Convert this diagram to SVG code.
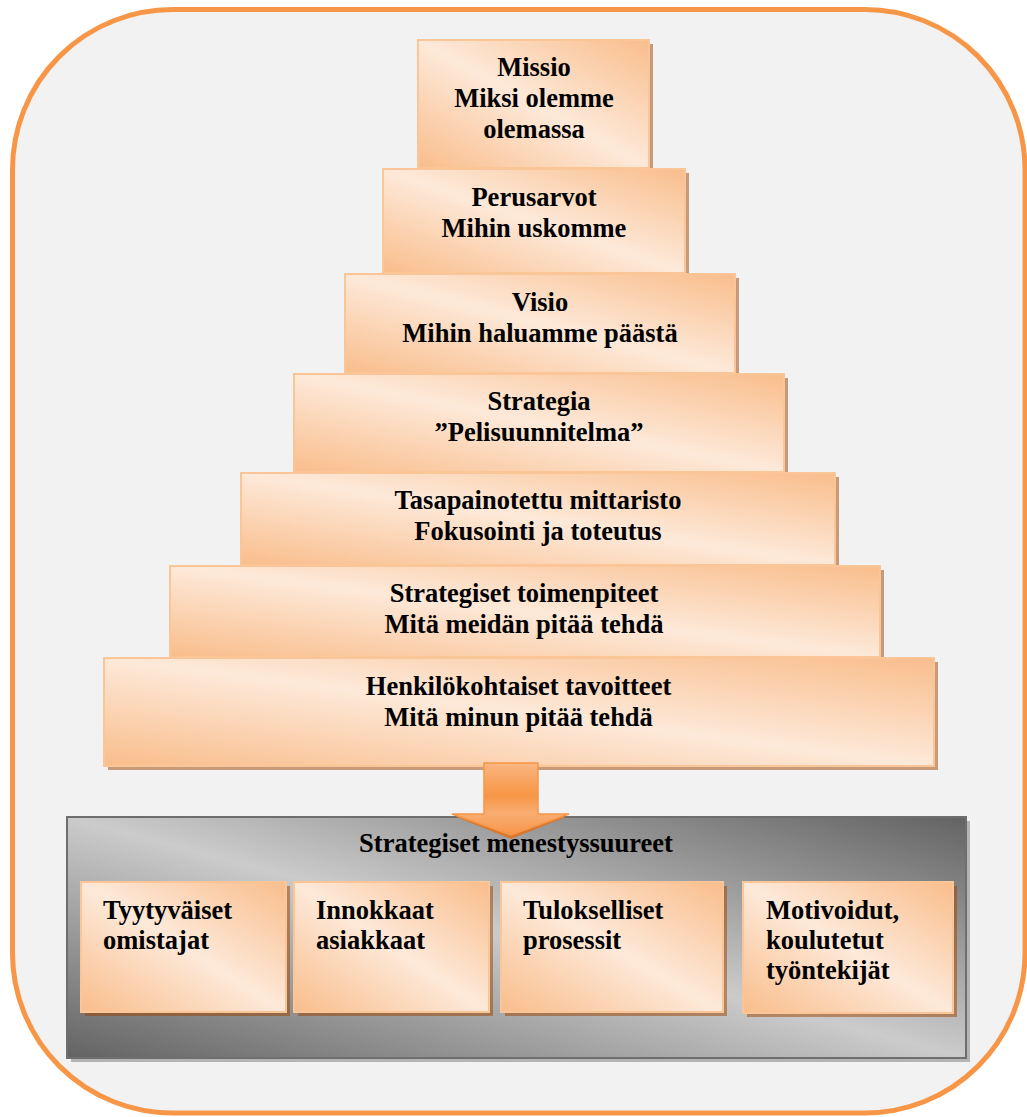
<svg xmlns="http://www.w3.org/2000/svg" width="1027" height="1117" viewBox="0 0 1027 1117">
<defs>
<linearGradient id="peach" x1="1" y1="0" x2="0" y2="1">
<stop offset="0" stop-color="#F9BD8B"/>
<stop offset="0.5" stop-color="#FDE9D9"/>
<stop offset="1" stop-color="#F9BD8B"/>
</linearGradient>
<linearGradient id="gray" x1="1" y1="0" x2="0" y2="1">
<stop offset="0" stop-color="#636363"/>
<stop offset="0.5" stop-color="#CBCBCB"/>
<stop offset="1" stop-color="#636363"/>
</linearGradient>
<linearGradient id="arrowg" gradientUnits="userSpaceOnUse" x1="0" y1="763" x2="0" y2="835">
<stop offset="0" stop-color="#FAB682"/>
<stop offset="0.45" stop-color="#F79646"/>
<stop offset="0.7" stop-color="#F9AD72"/>
<stop offset="1" stop-color="#F7964A"/>
</linearGradient>
<style>
.box{fill:url(#peach);stroke:#FAC597;stroke-width:2}
.shadow{fill:#9C4402;fill-opacity:0.5}
.t{font-family:"Liberation Serif","Times New Roman",serif;font-weight:bold;font-size:26.5px;fill:#000}
.c{text-anchor:middle}
</style>
</defs>
<rect x="0" y="0" width="1027" height="1117" fill="#FFFFFF"/>
<rect id="frame" x="12.5" y="9.5" width="1012.5" height="1103.5" rx="160" ry="160" fill="#F2F2F2" stroke="#F79646" stroke-width="5"/>

<g id="missio">
<rect class="shadow" x="422" y="44" width="231" height="128"/>
<rect class="box" x="418" y="40" width="231" height="128"/>
<text class="t c" x="534" y="76">Missio</text>
<text class="t c" x="534" y="107">Miksi olemme</text>
<text class="t c" x="534" y="138">olemassa</text>
</g>
<g id="perusarvot">
<rect class="shadow" x="387" y="173" width="302" height="104"/>
<rect class="box" x="383" y="169" width="302" height="104"/>
<text class="t c" x="534" y="206">Perusarvot</text>
<text class="t c" x="534" y="237">Mihin uskomme</text>
</g>
<g id="visio">
<rect class="shadow" x="349" y="278" width="390" height="99"/>
<rect class="box" x="345" y="274" width="390" height="99"/>
<text class="t c" x="540" y="311">Visio</text>
<text class="t c" x="540" y="342">Mihin haluamme päästä</text>
</g>
<g id="strategia">
<rect class="shadow" x="298" y="378" width="490" height="98"/>
<rect class="box" x="294" y="374" width="490" height="98"/>
<text class="t c" x="539" y="410">Strategia</text>
<text class="t c" x="539" y="441">”Pelisuunnitelma”</text>
</g>
<g id="mittaristo">
<rect class="shadow" x="245" y="477" width="594" height="92"/>
<rect class="box" x="241" y="473" width="594" height="92"/>
<text class="t c" x="538" y="509">Tasapainotettu mittaristo</text>
<text class="t c" x="538" y="540">Fokusointi ja toteutus</text>
</g>
<g id="toimenpiteet">
<rect class="shadow" x="174" y="570" width="710" height="91"/>
<rect class="box" x="170" y="566" width="710" height="91"/>
<text class="t c" x="524" y="602">Strategiset toimenpiteet</text>
<text class="t c" x="524" y="633">Mitä meidän pitää tehdä</text>
</g>
<g id="tavoitteet">
<rect class="shadow" x="108" y="662" width="830" height="108"/>
<rect class="box" x="104" y="658" width="830" height="108"/>
<text class="t c" x="518.5" y="695">Henkilökohtaiset tavoitteet</text>
<text class="t c" x="518.5" y="726">Mitä minun pitää tehdä</text>
</g>

<g id="menestyssuureet">
<rect x="71" y="821" width="899" height="241" fill="#B4B4B4"/>
<rect x="67" y="817" width="899" height="241" fill="url(#gray)" stroke="#6E6E6E" stroke-width="2"/>
<text class="t c" x="516" y="852">Strategiset menestyssuureet</text>
</g>
<g id="omistajat">
<rect class="shadow" x="85" y="886" width="205" height="130"/>
<rect class="box" x="81" y="882" width="205" height="130"/>
<text class="t" x="103" y="919">Tyytyväiset</text>
<text class="t" x="103" y="949">omistajat</text>
</g>
<g id="asiakkaat">
<rect class="shadow" x="298" y="886" width="195" height="130"/>
<rect class="box" x="294" y="882" width="195" height="130"/>
<text class="t" x="316" y="919">Innokkaat</text>
<text class="t" x="316" y="949">asiakkaat</text>
</g>
<g id="prosessit">
<rect class="shadow" x="505" y="886" width="222" height="130"/>
<rect class="box" x="501" y="882" width="222" height="130"/>
<text class="t" x="523" y="919">Tulokselliset</text>
<text class="t" x="523" y="949">prosessit</text>
</g>
<g id="tyontekijat">
<rect class="shadow" x="747" y="886" width="210" height="131"/>
<rect class="box" x="743" y="882" width="210" height="131"/>
<text class="t" x="766" y="919">Motivoidut,</text>
<text class="t" x="766" y="949">koulutetut</text>
<text class="t" x="766" y="979">työntekijät</text>
</g>

<g id="connectors">
<polygon points="456,817 566,817 511,839" fill="#D8772E"/>
<path d="M484,763 H538 V814 H569 L511,835 L452,814 H484 Z" fill="url(#arrowg)" stroke="#F79646" stroke-width="1.5" stroke-linejoin="miter"/>
</g>
</svg>
